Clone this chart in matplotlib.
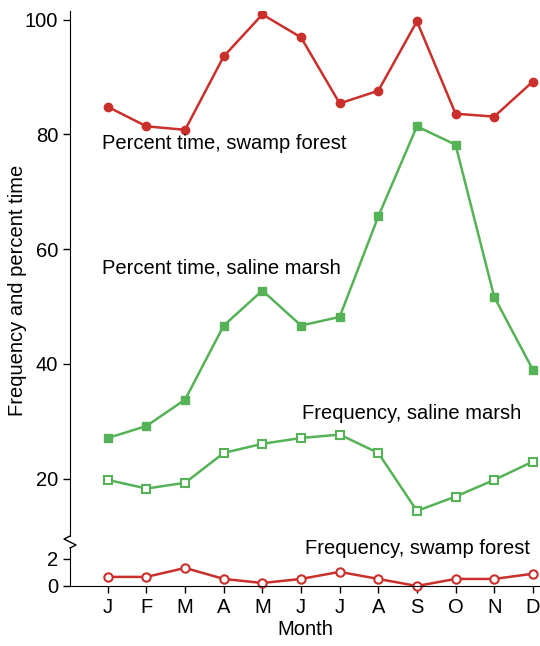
import matplotlib.pyplot as plt
import numpy as np

plt.rcParams['font.family'] = ['Liberation Sans', 'DejaVu Sans']

months = ['J', 'F', 'M', 'A', 'M', 'J', 'J', 'A', 'S', 'O', 'N', 'D']
pct_swamp = [84.8, 81.4, 80.8, 93.6, 100.9, 96.9, 85.4, 87.6, 99.7, 83.6, 83.1, 89.2]
pct_marsh = [27.1, 29.2, 33.8, 46.7, 52.8, 46.7, 48.2, 65.7, 81.4, 78.2, 51.7, 39.0]
freq_marsh = [19.8, 18.3, 19.3, 24.5, 26.1, 27.1, 27.7, 24.5, 14.4, 16.9, 19.8, 23.0]
freq_swamp = [0.67, 0.67, 1.33, 0.52, 0.22, 0.52, 1.04, 0.52, 0.0, 0.52, 0.52, 0.9]

red = '#c9302c'
green = '#55b256'
x = np.arange(1, 13)
fs = 14.5

fig = plt.figure(figsize=(5.4, 6.46), dpi=100)
ax = fig.add_axes([0.1296, 0.170, 0.870, 0.813])
ax2 = fig.add_axes([0.1296, 0.0929, 0.870, 0.0588])

ax.plot(x, pct_swamp, color=red, lw=1.8, marker='o', ms=6)
ax.plot(x, pct_marsh, color=green, lw=1.8, marker='s', ms=6)
ax.plot(x, freq_marsh, color=green, lw=1.8, marker='s', ms=6, mfc='white', mew=1.5)
ax2.plot(x, freq_swamp, color=red, lw=1.8, marker='o', ms=6, mfc='white', mew=1.5, clip_on=False)

for a in (ax, ax2):
    a.set_xlim(0.02, 12.18)
    a.spines['top'].set_visible(False)
    a.spines['right'].set_visible(False)
    a.tick_params(labelsize=fs, width=1, length=5)
ax.spines['bottom'].set_visible(False)
ax.set_xticks([])
ax.set_ylim(10, 101.5)
ax.set_yticks([20, 40, 60, 80, 100])
ax.patch.set_alpha(0)
ax2.patch.set_alpha(0)
ax2.set_ylim(0, 2.8)
ax2.set_yticks([0, 2])
ax2.set_xticks(x)
ax2.set_xticklabels(months)
ax2.set_xlabel('Month', fontsize=fs, labelpad=2)

# break mark on the y axis
fig.lines.append(plt.Line2D([70/540, 64/540, 76/540, 70/540],
                            [1-536/646, 1-539/646, 1-545/646, 1-548/646],
                            transform=fig.transFigure, color='black', lw=1))

fig.text(0.015, 0.55, 'Frequency and percent time', rotation=90, fontsize=fs, va='center')

ax.text(0.85, 78.4, 'Percent time, swamp forest', fontsize=fs, va='center')
ax.text(0.85, 56.8, 'Percent time, saline marsh', fontsize=fs, va='center')
ax.text(6.03, 31.3, 'Frequency, saline marsh', fontsize=fs, va='center')
ax2.text(6.1, 2.8, 'Frequency, swamp forest', fontsize=fs, va='center')

fig.savefig('out.png', dpi=100)
